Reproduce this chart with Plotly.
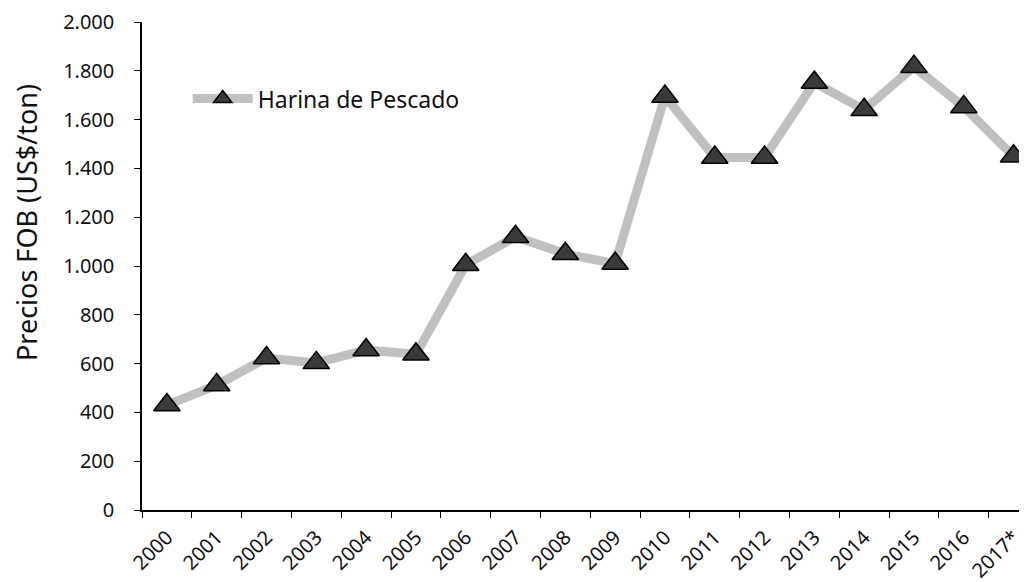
import plotly.graph_objects as go

years = ["2000", "2001", "2002", "2003", "2004", "2005", "2006", "2007", "2008",
         "2009", "2010", "2011", "2012", "2013", "2014", "2015", "2016", "2017*"]
precios = [430, 512, 623, 603, 656, 638, 1005, 1120, 1050, 1010,
           1695, 1445, 1445, 1752, 1640, 1817, 1652, 1450]
serie = "Harina de Pescado"
y_title = "Precios FOB (US$/ton)"
y_ticks = [0, 200, 400, 600, 800, 1000, 1200, 1400, 1600, 1800, 2000]

font_family = "Noto Sans, Open Sans, sans-serif"

fig = go.Figure()
fig.add_trace(go.Scatter(
    x=years, y=precios, name=serie, mode="lines+markers",
    line=dict(color="#c0c0c0", width=9),
    marker=dict(symbol="triangle-up", size=23, color="#3a3a3a",
                line=dict(color="#000000", width=1.5)),
))

fig.add_annotation(
    text=y_title, textangle=-90, xref="paper", yref="paper",
    x=-0.131, y=0.59, xanchor="center", yanchor="middle", showarrow=False,
    font=dict(size=27, family=font_family, color="#111111"),
)

fig.update_layout(
    width=1027, height=582,
    margin=dict(l=134, r=7, t=14, b=80, autoexpand=False),
    paper_bgcolor="white", plot_bgcolor="white",
    separators=",.",
    font=dict(family=font_family, size=20, color="#111111"),
    showlegend=True,
    legend=dict(x=0.0516, y=0.843, xanchor="left", yanchor="middle",
                bgcolor="rgba(0,0,0,0)", itemwidth=60,
                font=dict(size=23, family=font_family, color="#111111")),
    xaxis=dict(
        type="category", range=[-0.5, 17.29], automargin=False,
        showline=True, linecolor="black", linewidth=1.5,
        ticks="outside", ticklen=6, tickcolor="black", tickson="boundaries",
        tickangle=-45, showgrid=False, zeroline=False, ticklabelstandoff=6,
        tickfont=dict(size=20),
    ),
    yaxis=dict(
        range=[0, 2000], tickvals=y_ticks, tickformat=",d", automargin=False,
        showline=True, linecolor="black", linewidth=1.5,
        ticks="outside", ticklen=6, tickcolor="black",
        showgrid=False, zeroline=False, ticklabelstandoff=16,
        tickfont=dict(size=20),
    ),
)

fig.write_html("out.html")
